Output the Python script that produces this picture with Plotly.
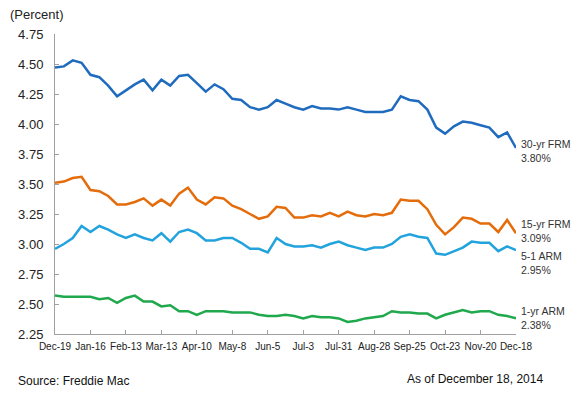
import plotly.graph_objects as go

tick_labels = ["Dec-19", "Jan-16", "Feb-13", "Mar-13", "Apr-10", "May-8", "Jun-5",
               "Jul-3", "Jul-31", "Aug-28", "Sep-25", "Oct-23", "Nov-20", "Dec-18"]

frm30 = [4.47, 4.48, 4.53, 4.51, 4.41, 4.39, 4.32, 4.23, 4.28, 4.33, 4.37, 4.28, 4.37,
         4.32, 4.40, 4.41, 4.34, 4.27, 4.33, 4.29, 4.21, 4.20, 4.14, 4.12, 4.14, 4.20,
         4.17, 4.14, 4.12, 4.15, 4.13, 4.13, 4.12, 4.14, 4.12, 4.10, 4.10, 4.10, 4.12,
         4.23, 4.20, 4.19, 4.12, 3.97, 3.92, 3.98, 4.02, 4.01, 3.99, 3.97, 3.89, 3.93, 3.80]

frm15 = [3.51, 3.52, 3.55, 3.56, 3.45, 3.44, 3.40, 3.33, 3.33, 3.35, 3.38, 3.32, 3.37,
         3.32, 3.42, 3.47, 3.37, 3.33, 3.39, 3.38, 3.32, 3.29, 3.25, 3.21, 3.23, 3.31,
         3.30, 3.22, 3.22, 3.24, 3.23, 3.26, 3.23, 3.27, 3.24, 3.23, 3.25, 3.24, 3.26,
         3.37, 3.36, 3.36, 3.29, 3.16, 3.08, 3.14, 3.22, 3.21, 3.17, 3.17, 3.10, 3.20, 3.09]

arm51 = [2.96, 3.00, 3.05, 3.15, 3.10, 3.15, 3.12, 3.08, 3.05, 3.08, 3.05, 3.03, 3.09,
         3.02, 3.10, 3.12, 3.09, 3.03, 3.03, 3.05, 3.05, 3.01, 2.96, 2.96, 2.93, 3.05,
         3.00, 2.98, 2.98, 2.99, 2.97, 3.00, 3.02, 2.99, 2.97, 2.95, 2.97, 2.97, 3.00,
         3.06, 3.08, 3.06, 3.05, 2.92, 2.91, 2.94, 2.97, 3.02, 3.01, 3.01, 2.94, 2.98, 2.95]

arm1 = [2.57, 2.56, 2.56, 2.56, 2.56, 2.54, 2.55, 2.51, 2.55, 2.57, 2.52, 2.52, 2.48,
        2.49, 2.44, 2.44, 2.41, 2.44, 2.44, 2.44, 2.43, 2.43, 2.43, 2.41, 2.40, 2.40,
        2.41, 2.40, 2.38, 2.40, 2.39, 2.39, 2.38, 2.35, 2.36, 2.38, 2.39, 2.40, 2.44,
        2.43, 2.43, 2.42, 2.42, 2.38, 2.41, 2.43, 2.45, 2.43, 2.44, 2.44, 2.41, 2.40, 2.38]

series_names = ["30-yr FRM", "15-yr FRM", "5-1 ARM", "1-yr ARM"]
series_values = [frm30, frm15, arm51, arm1]
colors = ["#1F6BBE", "#E46C0A", "#22A3DE", "#1FA84C"]
label_shift = [-3, 2, -13, 0]

weeks = list(range(len(frm30)))
tick_vals = weeks[::4]
FONT = "Liberation Sans, Arial, sans-serif"

fig = go.Figure()
for name, vals, col in zip(series_names, series_values, colors):
    fig.add_trace(go.Scatter(x=weeks, y=vals, mode="lines", name=name,
                             line=dict(color=col, width=2.5), showlegend=False,
                             hoverinfo="skip"))

for name, vals, ys in zip(series_names, series_values, label_shift):
    fig.add_annotation(x=weeks[-1], y=vals[-1], xref="x", yref="y",
                       text=f"{name}<br>{vals[-1]:.2f}%", showarrow=False,
                       xanchor="left", yanchor="middle", xshift=3, yshift=ys,
                       align="left",
                       font=dict(family=FONT, size=10.5, color="#333333"))

fig.add_annotation(xref="paper", yref="paper", x=-0.102, y=1.064, xanchor="left", yanchor="middle",
                   text="(Percent)", showarrow=False,
                   font=dict(family=FONT, size=13, color="#222222"))
fig.add_annotation(xref="paper", yref="paper", x=-0.0846, y=-0.156, xanchor="left", yanchor="middle",
                   text="Source: Freddie Mac", showarrow=False,
                   font=dict(family=FONT, size=12, color="#111111"))
fig.add_annotation(xref="paper", yref="paper", x=1.063, y=-0.149, xanchor="right", yanchor="middle",
                   text="As of December 18, 2014", showarrow=False,
                   font=dict(family=FONT, size=12, color="#111111"))

fig.update_layout(
    width=580, height=398,
    margin=dict(l=55, r=64, t=34, b=64),
    plot_bgcolor="white", paper_bgcolor="white",
    font=dict(family=FONT, color="#222222"),
    xaxis=dict(range=[0, 52], tickvals=tick_vals, ticktext=tick_labels,
               showgrid=False, zeroline=False, showline=True, linecolor="#A0A0A0",
               linewidth=1, ticks="inside", ticklen=4, tickcolor="#A0A0A0",
               tickangle=0, automargin=False, ticklabelstandoff=3,
               tickfont=dict(size=10, color="#222222")),
    yaxis=dict(range=[2.25, 4.75], tickvals=[2.25, 2.5, 2.75, 3.0, 3.25, 3.5, 3.75, 4.0, 4.25, 4.5, 4.75],
               tickformat=".2f", showgrid=False, zeroline=False, showline=True,
               linecolor="#A0A0A0", linewidth=1, ticks="inside", ticklen=4,
               tickcolor="#A0A0A0", ticklabelstandoff=8, automargin=False,
               tickfont=dict(size=13, color="#222222")),
)

fig.write_html("out.html", config={"displayModeBar": False},
               post_script="document.body.style.margin='0';")
